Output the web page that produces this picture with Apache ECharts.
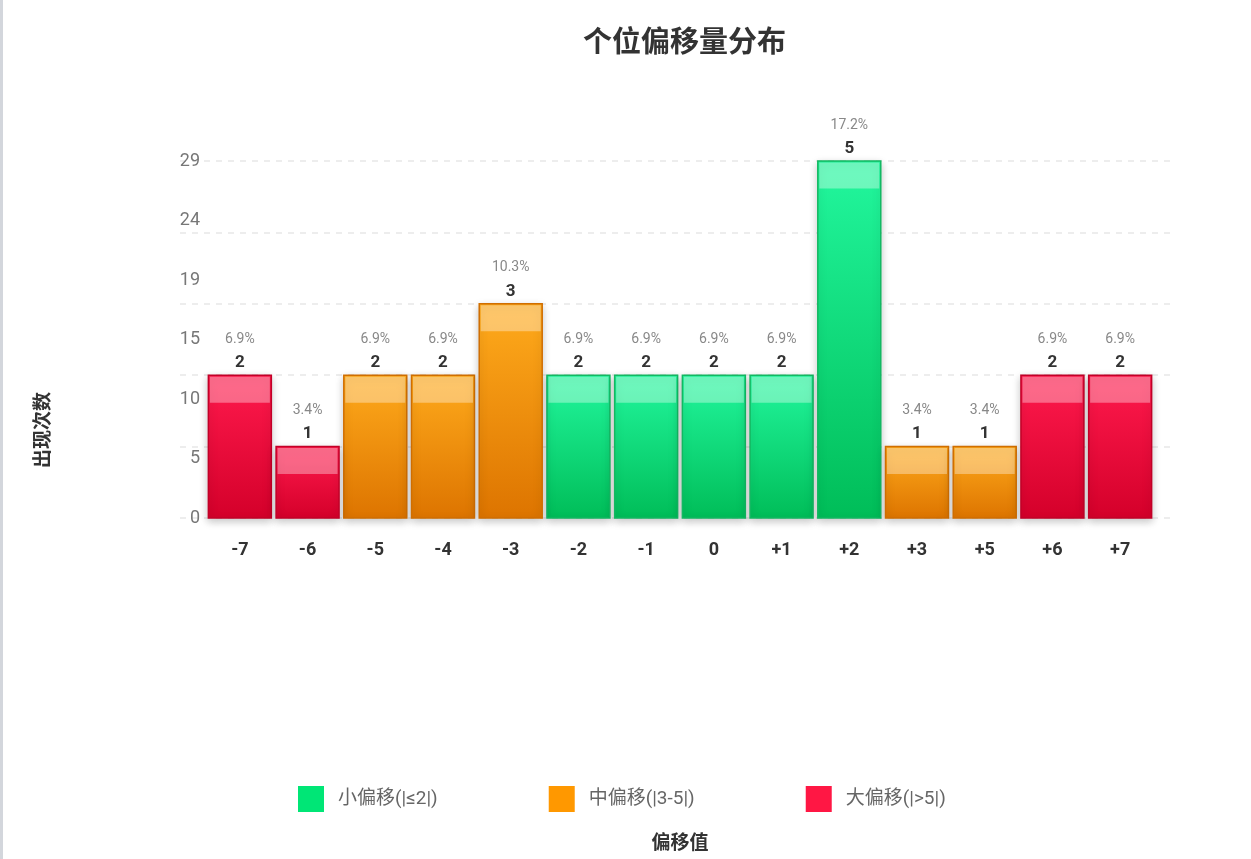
<!DOCTYPE html>
<html>
<head>
<meta charset="utf-8">
<script src="https://cdn.jsdelivr.net/npm/echarts@6/dist/echarts.min.js"></script>
<style>
  html, body { margin: 0; padding: 0; background: #fff; }
  #chart { width: 1251px; height: 859px; }
</style>
</head>
<body>
<div id="chart"></div>
<script>
// 数据
const categories = ['-7', '-6', '-5', '-4', '-3', '-2', '-1', '0', '+1', '+2', '+3', '+5', '+6', '+7']
const counts = [2, 1, 2, 2, 3, 2, 2, 2, 2, 5, 1, 1, 2, 2]
const percents = ['6.9%', '3.4%', '6.9%', '6.9%', '10.3%', '6.9%', '6.9%', '6.9%', '6.9%', '17.2%', '3.4%', '3.4%', '6.9%', '6.9%']
const barHeights = [11.6, 5.8, 11.6, 11.6, 17.4, 11.6, 11.6, 11.6, 11.6, 29, 5.8, 5.8, 11.6, 11.6]
const groups = ['big', 'big', 'mid', 'mid', 'mid', 'small', 'small', 'small', 'small', 'small', 'mid', 'mid', 'big', 'big']
const yTickLabels = ['0', '5', '10', '15', '19', '24', '29']

const FONT = '"Liberation Sans Narrow", "Roboto", "Noto Sans CJK SC", sans-serif'

const groupStyles = {
    small: { name: '小偏移(|≤2|)', color: '#00e676', top: '#22f79e', bottom: '#00bd58', border: '#12b862' },
    mid: { name: '中偏移(|3-5|)', color: '#ff9800', top: '#ffab1c', bottom: '#dd7400', border: '#d06e00' },
    big: { name: '大偏移(|>5|)', color: '#ff1744', top: '#ff1a4d', bottom: '#d4002a', border: '#c20027' }
}

function makeRender(style) {
    return function (params, api) {
        const idx = api.value(0)
        const h = api.value(1)
        const top = api.coord([idx, h])
        const base = api.coord([idx, 0])
        const w = api.size([1, 0])[0] * 0.93
        const x = top[0] - w / 2
        const bh = base[1] - top[1]
        return {
            type: 'group',
            children: [
                {
                    type: 'rect',
                    shape: { x: x, y: top[1], width: w, height: bh },
                    style: {
                        fill: new echarts.graphic.LinearGradient(0, 0, 0, 1, [
                            { offset: 0, color: style.top },
                            { offset: 1, color: style.bottom }
                        ]),
                        stroke: style.border,
                        lineWidth: 1.5,
                        shadowBlur: 8,
                        shadowOffsetY: 3,
                        shadowColor: 'rgba(0,0,0,0.22)'
                    }
                },
                {
                    type: 'rect',
                    shape: { x: x + 1.5, y: top[1] + 1.5, width: w - 3, height: Math.min(26, bh - 3) },
                    style: { fill: 'rgba(255,255,255,0.35)' }
                },
                {
                    type: 'text',
                    style: {
                        x: top[0], y: top[1] - 4,
                        text: String(api.value(2)),
                        align: 'center', verticalAlign: 'bottom',
                        fill: '#333', font: 'bold 17px ' + FONT
                    }
                },
                {
                    type: 'text',
                    style: {
                        x: top[0], y: top[1] - 29,
                        text: percents[idx],
                        align: 'center', verticalAlign: 'bottom',
                        fill: '#888', font: '14px ' + FONT
                    }
                }
            ]
        }
    }
}

const seriesList = ['small', 'mid', 'big'].map(function (g) {
    const st = groupStyles[g]
    const data = []
    categories.forEach(function (c, i) {
        if (groups[i] === g) data.push([i, barHeights[i], counts[i]])
    })
    return {
        name: st.name,
        type: 'custom',
        xAxisIndex: 0,
        yAxisIndex: 0,
        itemStyle: { color: st.color },
        encode: { x: 0, y: 1 },
        renderItem: makeRender(st),
        data: data
    }
})

const chart = echarts.init(document.getElementById('chart'))
chart.setOption({
    animation: false,
    textStyle: { fontFamily: FONT },
    title: {
        text: '个位偏移量分布',
        left: 578,
        top: 21,
        textStyle: { fontSize: 29, fontWeight: 'bold', color: '#333', fontFamily: '"Noto Sans CJK SC", sans-serif' }
    },
    legend: {
        top: 781,
        left: 293,
        itemWidth: 26,
        itemHeight: 26,
        itemGap: 111,
        icon: 'rect',
        textStyle: { fontSize: 19, color: '#666', width: 125, padding: [0, 0, 0, 9] },
        data: seriesList.map(function (s) { return s.name })
    },
    grid: [
        { left: 206, right: 97, top: 161, bottom: 341 },
        { left: 180, right: 78, top: 161, bottom: 341 }
    ],
    xAxis: [
        {
            type: 'category',
            gridIndex: 0,
            data: categories,
            axisLine: { show: false },
            axisTick: { show: false },
            axisLabel: { margin: 24, fontSize: 18, fontWeight: 'bold', color: '#333' },
            name: '偏移值',
            nameLocation: 'middle',
            nameGap: 314,
            nameTextStyle: { fontSize: 19, fontWeight: 'bold', color: '#333', fontFamily: '"Noto Sans CJK SC", sans-serif' }
        },
        {
            type: 'value',
            gridIndex: 1,
            show: false
        }
    ],
    yAxis: [
        {
            type: 'value',
            gridIndex: 0,
            min: 0,
            max: 29,
            interval: 29 / 6,
            axisLine: { show: false },
            axisTick: { show: false },
            splitLine: { show: false },
            axisLabel: {
                margin: 6,
                fontSize: 18,
                color: '#777',
                formatter: function (v, i) { return yTickLabels[i] }
            }
        },
        {
            type: 'value',
            gridIndex: 1,
            min: 0,
            max: 29,
            interval: 5.8,
            axisLine: { show: false },
            axisTick: { show: false },
            axisLabel: { show: false },
            splitLine: { show: true, lineStyle: { type: [6, 6], color: '#e8e8e8', width: 1.5 } }
        }
    ],
    graphic: [
        {
            type: 'rect',
            left: 0, top: 0,
            shape: { width: 3, height: 859 },
            style: { fill: '#d3d6dc' }
        },
        {
            type: 'text',
            x: 42, y: 430,
            rotation: Math.PI / 2,
            style: {
                text: '出现次数',
                align: 'center', verticalAlign: 'middle',
                fill: '#333',
                font: 'bold 19px "Noto Sans CJK SC", sans-serif'
            }
        }
    ],
    series: seriesList
})
</script>
</body>
</html>
